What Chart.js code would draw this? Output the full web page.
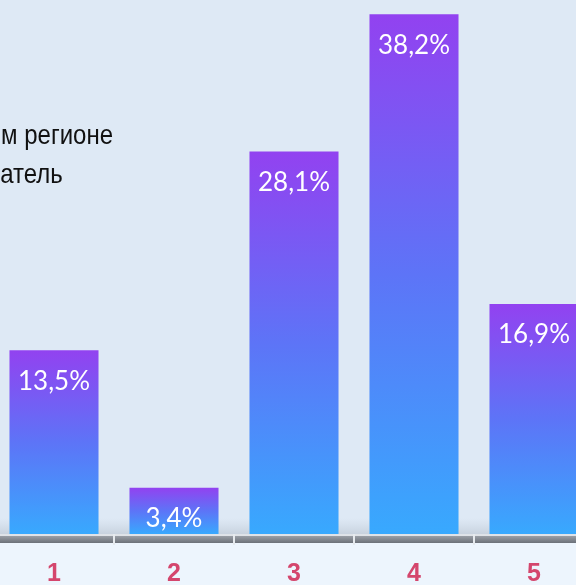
<!DOCTYPE html>
<html>
<head>
<meta charset="utf-8">
<script src="https://cdn.jsdelivr.net/npm/chart.js@4"></script>
<style>
  html, body { margin: 0; padding: 0; width: 576px; height: 585px; overflow: hidden; background: #dee9f5; }
  #wrap { position: absolute; left: -6px; top: 0; width: 600px; height: 585px; }
</style>
</head>
<body>
<div id="wrap"><canvas id="barChart"></canvas></div>
<script>
const categories = ['1', '2', '3', '4', '5'];
const values = [13.5, 3.4, 28.1, 38.2, 16.9];
const valueLabels = ['13,5%', '3,4%', '28,1%', '38,2%', '16,9%'];
const titleLines = ['м регионе', 'атель'];

const AXIS_Y = 534;

const backdrop = {
    id: 'backdrop',
    beforeDraw(chart) {
        const ctx = chart.ctx;
        const w = chart.width, h = chart.height;
        ctx.save();
        ctx.fillStyle = '#dee9f5';
        ctx.fillRect(0, 0, w, AXIS_Y);
        const shade = ctx.createLinearGradient(0, AXIS_Y - 16, 0, AXIS_Y);
        shade.addColorStop(0, 'rgba(200,210,222,0)');
        shade.addColorStop(1, 'rgba(190,200,212,0.7)');
        ctx.fillStyle = shade;
        ctx.fillRect(0, AXIS_Y - 16, w, 16);
        ctx.fillStyle = '#edf5fd';
        ctx.fillRect(0, AXIS_Y, w, h - AXIS_Y);
        ctx.fillStyle = '#dfe3e8';
        ctx.fillRect(0, AXIS_Y, w, 2);
        const band = ctx.createLinearGradient(0, AXIS_Y + 2, 0, AXIS_Y + 9);
        band.addColorStop(0, '#9a9fa6');
        band.addColorStop(1, '#6c7179');
        ctx.fillStyle = band;
        ctx.fillRect(0, AXIS_Y + 2, w, 7);

        // partly hidden title, condensed like the original narrow face
        ctx.fillStyle = '#111';
        ctx.font = '28px "Liberation Sans", Arial, sans-serif';
        ctx.textAlign = 'left';
        ctx.textBaseline = 'alphabetic';
        const sx = 112 / ctx.measureText(titleLines[0]).width;
        ctx.translate(7, 0);
        ctx.scale(sx, 1);
        ctx.fillText(titleLines[0], 0, 144);
        ctx.fillText(titleLines[1], -1, 183);
        ctx.restore();
    }
};

const barLabels = {
    id: 'barLabels',
    afterDatasetsDraw(chart) {
        const ctx = chart.ctx;
        const meta = chart.getDatasetMeta(0);
        ctx.save();
        ctx.fillStyle = '#ffffff';
        ctx.font = '26px Lato, "Noto Sans", sans-serif';
        ctx.textAlign = 'center';
        ctx.textBaseline = 'middle';
        meta.data.forEach((bar, i) => {
            ctx.fillText(valueLabels[i], bar.x, bar.y + 31);
        });
        ctx.restore();
    }
};

function barGradient(context) {
    const chart = context.chart;
    const yScale = chart.scales.y;
    if (!yScale || context.dataIndex === undefined) return '#5a7cf8';
    const top = yScale.getPixelForValue(values[context.dataIndex]);
    const base = yScale.getPixelForValue(0);
    if (!isFinite(top) || !isFinite(base) || top === base) return '#5a7cf8';
    const g = chart.ctx.createLinearGradient(0, top, 0, base);
    g.addColorStop(0, '#9242f0');
    g.addColorStop(0.5, '#5d74f7');
    g.addColorStop(1, '#38a9fe');
    return g;
}

const ctx = document.getElementById('barChart').getContext('2d');

new Chart(ctx, {
    type: 'bar',
    data: {
        labels: categories,
        datasets: [{
            data: values,
            backgroundColor: barGradient,
            borderWidth: 0,
            barPercentage: 0.742,
            categoryPercentage: 1
        }]
    },
    options: {
        responsive: true,
        maintainAspectRatio: false,
        animation: false,
        layout: { padding: 0 },
        plugins: {
            legend: { display: false },
            tooltip: { enabled: false }
        },
        scales: {
            x: {
                offset: true,
                afterFit: (scale) => { scale.height = 585 - AXIS_Y; },
                border: { display: false },
                grid: {
                    offset: true,
                    drawOnChartArea: false,
                    drawTicks: true,
                    tickLength: 11,
                    color: '#e6eaee',
                    lineWidth: 2
                },
                ticks: {
                    color: '#d4466d',
                    font: { family: '"Liberation Sans", Arial, sans-serif', size: 25, weight: 'bold' },
                    padding: 14
                }
            },
            y: {
                display: false,
                min: 0,
                max: 39.24
            }
        }
    },
    plugins: [backdrop, barLabels]
});
</script>
</body>
</html>
